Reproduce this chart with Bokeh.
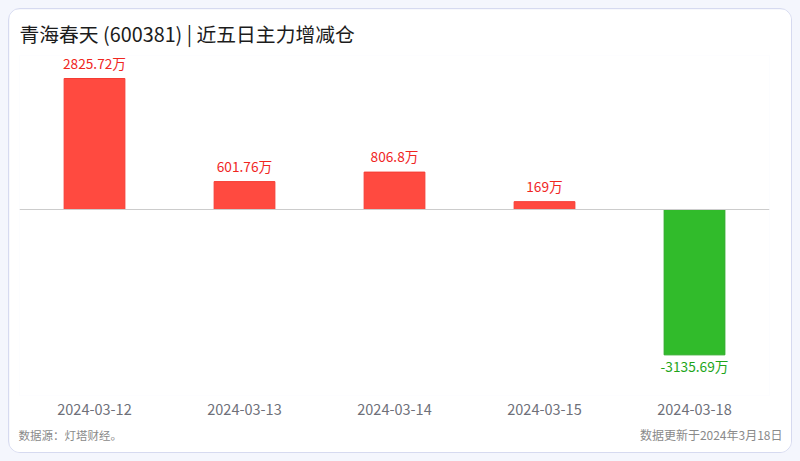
from bokeh.plotting import figure
from bokeh.models import ColumnDataSource, Range1d, Span, Title
from bokeh.layouts import column
from bokeh.embed import file_html
from bokeh.resources import INLINE
from bokeh.core.properties import value

dates = ["2024-03-12", "2024-03-13", "2024-03-14", "2024-03-15", "2024-03-18"]
values = [2825.72, 601.76, 806.8, 169, -3135.69]
labels = ["2825.72万", "601.76万", "806.8万", "169万", "-3135.69万"]

FONT = "Noto Sans CJK SC"

src = ColumnDataSource(dict(
    x=dates,
    v=values,
    lab=labels,
    fill=["#ff4a40" if v >= 0 else "#31bb2b" for v in values],
    edge=["#f53c33" if v >= 0 else "#2aa925" for v in values],
    tcol=["#f0261f" if v >= 0 else "#1ea51a" for v in values],
    base=["bottom" if v >= 0 else "top" for v in values],
    yoff=[-6 if v >= 0 else 1 for v in values],
))

p = figure(x_range=dates, y_range=Range1d(-4012, 3322), width=784, height=445,
           output_backend="svg", toolbar_location=None, y_axis_location=None,
           min_border_left=10, min_border_right=24, min_border_top=46, min_border_bottom=59)
p.styles = {"border": "1px solid #d6daf0", "border-radius": "12px", "overflow": "hidden"}
p.outline_line_color = None
p.xgrid.visible = False
p.ygrid.visible = False
p.background_fill_color = "white"
p.border_fill_color = "white"

p.title.text = "青海春天 (600381) | 近五日主力增减仓"
p.title.align = "left"
p.title.offset = 0
p.title.text_font = FONT
p.title.text_font_size = "19.8px"
p.title.text_font_style = "normal"
p.title.text_color = "#1c1c1c"
p.title.standoff = 15

p.vbar(x="x", top="v", bottom=0, width=0.405, source=src,
       fill_color="fill", line_color="edge", line_width=1)

p.add_layout(Span(location=0, dimension="width", line_color="#cccccc", line_width=1))

p.text(x="x", y="v", text="lab", source=src, text_color="tcol",
       text_baseline="base", y_offset="yoff", text_align="center",
       text_font=value(FONT), text_font_size="13.7px")

ax = p.xaxis[0]
ax.axis_line_color = None
ax.major_tick_line_color = None
ax.minor_tick_line_color = None
ax.major_tick_out = 0
ax.major_tick_in = 0
ax.major_label_standoff = 8
ax.major_label_text_font = FONT
ax.major_label_text_font_size = "14.5px"
ax.major_label_text_color = "#6e7079"

# spacer between the axis labels and the footer row
p.add_layout(Title(text=" ", text_font_size="1px", standoff=12.5), "below")
# both footers share one row: each panel is given (almost) zero height
p.add_layout(Title(text="数据更新于2024年3月18日", align="right", offset=-13, standoff=-19.4,
                   text_font=FONT, text_font_size="12px", text_font_style="normal",
                   text_color="#8a8a8a"), "below")
p.add_layout(Title(text="数据源：灯塔财经。", align="left", offset=-1, standoff=-18.6,
                   text_font=FONT, text_font_size="11.5px", text_font_style="normal",
                   text_color="#8a8a8a"), "below")

page = column(p, width=800, height=461,
              styles={"background-color": "#f4f6fd", "padding": "8px", "box-sizing": "border-box"})

open("out.html", "w").write(file_html(page, INLINE))
